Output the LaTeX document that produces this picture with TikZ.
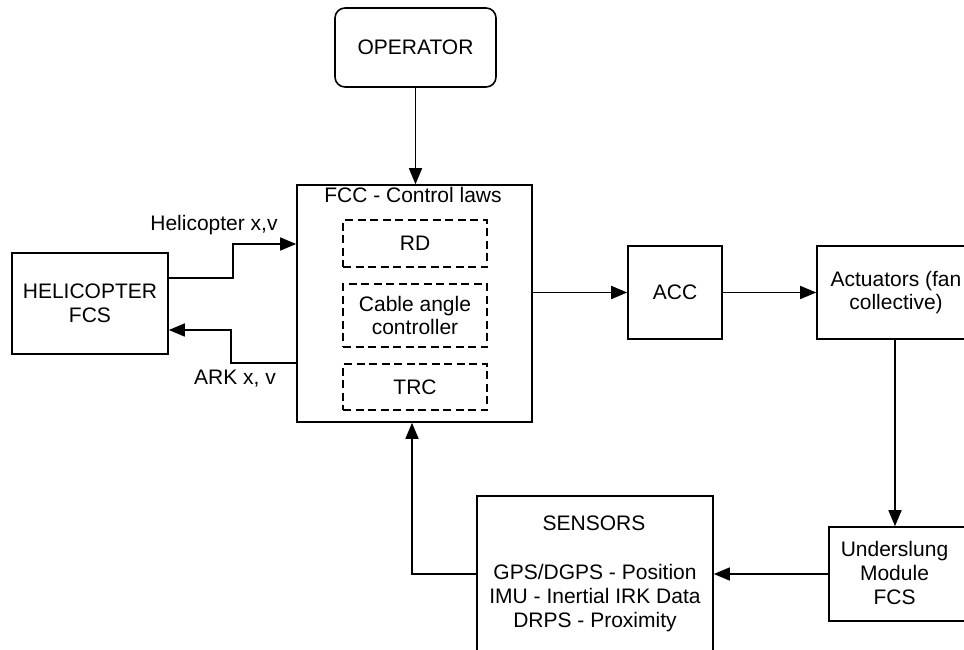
\documentclass[tikz,border=0pt]{standalone}
\usepackage{fontspec}
\setmainfont{Liberation Sans}
\usetikzlibrary{arrows.meta,calc}
\begin{document}
\begin{tikzpicture}[x=1pt,y=-1pt,
  every node/.style={font=\fontsize{21}{23.7}\selectfont, align=center, inner sep=0pt},
  blk/.style={draw, line width=1.6pt, minimum width=#1},
  dbox/.style={draw, line width=1.4pt, dash pattern=on 8pt off 4.5pt, minimum width=144pt},
  conn/.style={line width=1.6pt},
  arr/.style={conn, -{Triangle[length=16pt,width=13pt]}}]
\useasboundingbox (0,0) rectangle (964,650);
\clip (0,0) rectangle (964,650);
% boxes
\node[blk=161pt, minimum height=79pt, rounded corners=10pt] (op) at (415.5,47.5) {OPERATOR};
\node[blk=235pt, minimum height=237pt] (fcc) at (414.5,303.5) {};
\node (fcct) at (413,195) {FCC - Control laws};
\node[dbox, minimum height=47pt] (rd) at (415,243.5) {RD};
\node[dbox, minimum height=63pt] (cab) at (415,315.5) {Cable angle\\controller};
\node[dbox, minimum height=46pt] (trc) at (415,387) {TRC};
\node[blk=156pt, minimum height=101pt] (hel) at (90,303.5) {HELICOPTER\\FCS};
\node[blk=94pt, minimum height=93pt] (acc) at (675,292.5) {ACC};
\node[blk=158pt, minimum height=93pt] (act) at (896,292.5) {Actuators (fan\\collective)};
\node[blk=137pt, minimum height=94pt] (und) at (897.5,574) {};
\node (undt) at (894.5,573) {Underslung\\Module\\FCS};
\node[blk=236pt, minimum height=156pt] (sen) at (595,574) {};
\node (sent) at (594,523) {SENSORS};
\node (senl) at (595,598) {GPS/DGPS - Position\\IMU - Inertial IRK Data\\DRPS - Proximity};
% labels
\node (lhel) at (214,225) {Helicopter x,v};
\node (lark) at (235,379) {ARK x, v};
% connectors
\draw[arr] (op.south) -- (op.south |- fcc.north);
\draw[arr] ($(hel.east)+(0,-25.5)$) -- ++(64,0) |- ($(fcc.west)+(0,-59.5)$);
\draw[arr] ($(fcc.west)+(0,59.5)$) -- ++(-65,0) |- ($(hel.east)+(0,26.5)$);
\draw[arr] (acc.west -| fcc.east) -- (acc.west);
\draw[arr] (acc.east) -- (act.west);
\draw[arr] ($(act.south)+(-1,0)$) -- ($(act.south |- und.north)+(-1,0)$);
\draw[arr] (und.west) -- (sen.east);
\draw[arr] (sen.west) -| ($(fcc.south)+(-2.5,0)$);
\end{tikzpicture}
\end{document}
